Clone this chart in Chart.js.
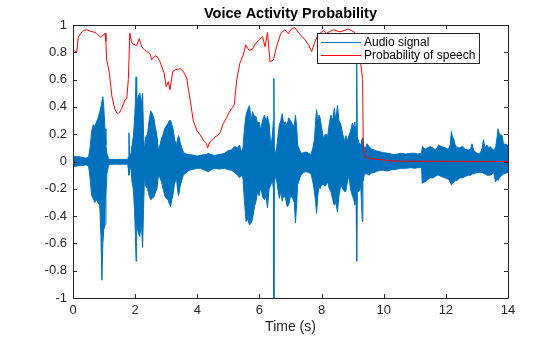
<!DOCTYPE html>
<html>
<head>
<meta charset="utf-8">
<script src="https://cdn.jsdelivr.net/npm/chart.js@4.4.1/dist/chart.umd.min.js"></script>
<style>
  html, body { margin: 0; padding: 0; background: #fff; }
  #wrap { width: 560px; height: 337px; }
</style>
</head>
<body>
<div id="wrap"><canvas id="c" width="560" height="337"></canvas></div>
<script>
// Audio waveform envelope: time (s), upper and lower extent of the signal
const envTime = [
  0.00,0.10,0.20,0.30,0.40,0.50,0.55,0.60,0.65,0.70,0.76,0.82,0.86,0.90,0.93,0.96,0.99,1.03,1.06,1.09,
  1.14,1.20,1.40,1.60,1.76,1.78,1.80,1.82,1.86,1.90,1.94,1.98,2.01,2.03,2.05,2.08,2.10,2.15,2.20,2.24,
  2.27,2.30,2.34,2.40,2.45,2.50,2.55,2.60,2.65,2.70,2.75,2.80,2.85,2.90,2.95,3.00,3.06,3.10,3.14,3.18,
  3.22,3.27,3.33,3.37,3.40,3.45,3.50,3.55,3.60,3.70,3.80,3.90,4.00,4.10,4.20,4.30,4.35,4.45,4.56,4.70,
  4.88,5.00,5.10,5.20,5.30,5.36,5.42,5.47,5.52,5.57,5.62,5.68,5.73,5.78,5.84,5.89,5.94,5.99,6.04,6.10,
  6.16,6.21,6.26,6.31,6.37,6.42,6.45,6.465,6.48,6.53,6.58,6.64,6.69,6.73,6.78,6.84,6.89,6.94,7.00,7.07,
  7.12,7.16,7.20,7.23,7.30,7.34,7.42,7.50,7.58,7.66,7.72,7.77,7.81,7.84,7.88,7.92,7.95,8.00,8.06,8.12,
  8.20,8.25,8.30,8.36,8.41,8.46,8.51,8.56,8.62,8.68,8.74,8.78,8.83,8.88,8.93,8.99,9.04,9.07,9.11,9.13,
  9.15,9.20,9.26,9.31,9.33,9.37,9.42,9.46,9.53,9.60,9.69,9.80,9.90,10.00,10.12,10.25,10.33,10.45,10.55,10.70,
  10.87,11.00,11.10,11.19,11.22,11.24,11.30,11.34,11.42,11.50,11.58,11.66,11.72,11.77,11.85,11.98,12.08,12.14,12.18,12.22,
  12.25,12.30,12.36,12.45,12.52,12.62,12.73,12.80,12.84,12.90,13.00,13.10,13.17,13.21,13.26,13.32,13.38,13.43,13.50,13.54,
  13.60,13.65,13.68,13.72,13.81,13.86,13.91,13.97,14.00
];
const envUpper = [
  0.04,0.035,0.035,0.03,0.025,0.03,0.10,0.22,0.27,0.26,0.29,0.33,0.36,0.40,0.44,0.475,0.40,0.24,0.12,0.06,
  0.02,0.015,0.015,0.015,0.015,0.03,0.21,0.05,0.05,0.12,0.18,0.30,0.45,0.62,0.40,0.45,0.48,0.50,0.42,0.50,
  0.20,0.08,0.18,0.20,0.30,0.37,0.35,0.32,0.25,0.19,0.08,0.12,0.17,0.20,0.24,0.26,0.28,0.30,0.30,0.27,
  0.24,0.16,0.12,0.17,0.19,0.14,0.10,0.07,0.06,0.05,0.05,0.045,0.04,0.045,0.05,0.05,0.06,0.05,0.045,0.05,
  0.06,0.08,0.085,0.11,0.10,0.12,0.07,0.10,0.25,0.34,0.38,0.41,0.30,0.365,0.33,0.33,0.28,0.29,0.23,0.30,
  0.34,0.30,0.33,0.28,0.10,0.20,0.30,0.61,0.10,0.05,0.15,0.27,0.30,0.35,0.28,0.29,0.26,0.32,0.30,0.27,
  0.26,0.34,0.25,0.12,0.08,0.06,0.065,0.07,0.06,0.05,0.10,0.16,0.30,0.38,0.30,0.34,0.32,0.25,0.17,0.20,
  0.19,0.28,0.34,0.30,0.39,0.30,0.41,0.30,0.27,0.20,0.15,0.19,0.15,0.19,0.22,0.28,0.25,0.29,0.20,0.80,
  0.18,0.14,0.12,0.17,0.15,0.10,0.10,0.13,0.11,0.09,0.085,0.075,0.07,0.065,0.06,0.055,0.05,0.055,0.06,0.055,
  0.06,0.06,0.055,0.06,0.06,0.11,0.10,0.09,0.10,0.11,0.10,0.085,0.10,0.12,0.11,0.10,0.09,0.12,0.22,0.17,
  0.17,0.12,0.10,0.10,0.11,0.09,0.085,0.09,0.13,0.08,0.06,0.055,0.10,0.16,0.10,0.12,0.10,0.11,0.09,0.085,
  0.10,0.18,0.24,0.20,0.19,0.12,0.13,0.12,0.12
];
const envLower = [
  -0.035,-0.035,-0.03,-0.03,-0.025,-0.03,-0.12,-0.25,-0.27,-0.30,-0.28,-0.31,-0.31,-0.55,-0.87,-0.60,-0.50,-0.46,-0.25,-0.09,
  -0.03,-0.02,-0.02,-0.02,-0.02,-0.05,-0.10,-0.06,-0.04,-0.15,-0.20,-0.35,-0.55,-0.73,-0.45,-0.50,-0.52,-0.55,-0.45,-0.63,
  -0.35,-0.10,-0.18,-0.20,-0.25,-0.28,-0.27,-0.26,-0.23,-0.20,-0.10,-0.12,-0.15,-0.20,-0.25,-0.27,-0.28,-0.31,-0.33,-0.28,
  -0.24,-0.16,-0.12,-0.22,-0.25,-0.18,-0.14,-0.10,-0.09,-0.07,-0.06,-0.055,-0.05,-0.05,-0.06,-0.07,-0.075,-0.06,-0.05,-0.055,
  -0.05,-0.06,-0.065,-0.08,-0.10,-0.12,-0.10,-0.12,-0.30,-0.44,-0.42,-0.465,-0.45,-0.42,-0.33,-0.29,-0.22,-0.25,-0.19,-0.26,
  -0.28,-0.25,-0.34,-0.20,-0.17,-0.14,-0.20,-1.00,-0.15,-0.10,-0.18,-0.27,-0.22,-0.29,-0.25,-0.27,-0.33,-0.32,-0.25,-0.27,
  -0.30,-0.45,-0.30,-0.17,-0.12,-0.10,-0.08,-0.075,-0.08,-0.09,-0.15,-0.22,-0.30,-0.38,-0.25,-0.17,-0.20,-0.17,-0.17,-0.18,
  -0.15,-0.20,-0.22,-0.28,-0.32,-0.30,-0.37,-0.25,-0.17,-0.20,-0.22,-0.22,-0.15,-0.10,-0.20,-0.25,-0.28,-0.32,-0.25,-0.73,
  -0.22,-0.22,-0.18,-0.44,-0.15,-0.10,-0.09,-0.09,-0.10,-0.085,-0.08,-0.07,-0.065,-0.065,-0.07,-0.06,-0.06,-0.055,-0.05,-0.05,
  -0.045,-0.05,-0.045,-0.045,-0.05,-0.16,-0.15,-0.15,-0.13,-0.12,-0.12,-0.11,-0.10,-0.10,-0.11,-0.12,-0.13,-0.15,-0.17,-0.16,
  -0.15,-0.14,-0.14,-0.12,-0.12,-0.11,-0.10,-0.10,-0.09,-0.09,-0.08,-0.08,-0.08,-0.09,-0.09,-0.10,-0.10,-0.10,-0.09,-0.08,
  -0.15,-0.12,-0.14,-0.12,-0.10,-0.09,-0.09,-0.08,-0.08
];

// Speech probability curve
const probTime = [
  0.00,0.05,0.12,0.17,0.25,0.35,0.44,0.55,0.65,0.75,0.82,0.89,0.95,1.03,1.06,1.08,1.17,1.25,1.35,1.43,
  1.50,1.57,1.67,1.73,1.78,1.83,1.88,1.92,2.05,2.13,2.21,2.30,2.37,2.48,2.53,2.58,2.64,2.72,2.80,2.93,
  3.00,3.07,3.12,3.21,3.28,3.35,3.44,3.50,3.55,3.66,3.77,3.87,3.98,4.09,4.23,4.30,4.33,4.41,4.50,4.57,
  4.65,4.73,4.84,4.94,5.03,5.11,5.19,5.27,5.37,5.48,5.56,5.66,5.77,5.86,6.02,6.10,6.18,6.26,6.34,6.45,
  6.55,6.69,6.82,6.93,7.04,7.14,7.31,7.47,7.58,7.68,7.79,7.90,8.06,8.16,8.38,8.59,8.86,9.07,9.18,9.26,
  9.32,9.34,9.37,9.40,9.56,9.88,10.20,10.60,14.00
];
const probValue = [
  0.82,0.81,0.80,0.91,0.94,0.96,0.965,0.955,0.95,0.94,0.925,0.91,0.92,0.94,0.88,0.75,0.65,0.48,0.38,0.35,
  0.36,0.39,0.45,0.46,0.60,0.94,0.88,0.86,0.85,0.90,0.84,0.82,0.805,0.79,0.745,0.76,0.775,0.765,0.73,0.65,
  0.55,0.585,0.525,0.66,0.67,0.675,0.68,0.67,0.66,0.61,0.45,0.30,0.23,0.195,0.145,0.13,0.10,0.145,0.16,0.18,
  0.19,0.21,0.28,0.32,0.36,0.39,0.415,0.60,0.72,0.78,0.855,0.815,0.82,0.86,0.90,0.915,0.84,0.945,0.73,0.745,
  0.84,0.94,0.965,0.935,0.975,0.98,0.93,0.89,0.855,0.805,0.88,0.93,0.96,0.94,0.965,0.95,0.97,0.945,0.85,0.72,
  0.60,0.15,0.06,0.035,0.02,0.015,0.005,0.002,0.0
];

// Axis ticks
const xTicks = [0, 2, 4, 6, 8, 10, 12, 14];
const yTicks = [-1, -0.8, -0.6, -0.4, -0.2, 0, 0.2, 0.4, 0.6, 0.8, 1];

const chartTitle = 'Voice Activity Probability';
const seriesLabels = ['Audio signal', 'Probability of speech'];
const AUDIO_BLUE = '#0072BD';
const PROB_RED = '#FF0000';
const AXIS_GRAY = '#262626';
const FONT = '"Liberation Sans", Arial, Helvetica, sans-serif';

const pts = (xs, ys) => xs.map((x, i) => ({ x, y: ys[i] }));

// Bold title centred over the plot area
const axesTitle = {
  id: 'axesTitle',
  afterDraw(chart) {
    const { ctx, chartArea: a } = chart;
    ctx.save();
    ctx.font = 'bold 14.5px ' + FONT;
    ctx.fillStyle = '#000';
    ctx.textAlign = 'center';
    ctx.textBaseline = 'middle';
    ctx.fillText(chartTitle, (a.left + a.right) / 2, 14);
    ctx.restore();
  }
};

// Box around the axes with inward ticks on all four sides
const axesBox = {
  id: 'axesBox',
  afterDatasetsDraw(chart) {
    const { ctx, chartArea: a, scales } = chart;
    const len = 4;
    ctx.save();
    ctx.strokeStyle = AXIS_GRAY;
    ctx.lineWidth = 1;
    ctx.beginPath();
    ctx.rect(Math.round(a.left) + 0.5, Math.round(a.top) + 0.5,
             Math.round(a.right - a.left), Math.round(a.bottom - a.top));
    scales.x.ticks.forEach(t => {
      const px = Math.round(scales.x.getPixelForValue(t.value)) + 0.5;
      ctx.moveTo(px, a.bottom); ctx.lineTo(px, a.bottom - len);
      ctx.moveTo(px, a.top); ctx.lineTo(px, a.top + len);
    });
    scales.y.ticks.forEach(t => {
      const py = Math.round(scales.y.getPixelForValue(t.value)) + 0.5;
      ctx.moveTo(a.left, py); ctx.lineTo(a.left + len, py);
      ctx.moveTo(a.right, py); ctx.lineTo(a.right - len, py);
    });
    ctx.stroke();
    ctx.restore();
  }
};

// Legend box in the upper right of the axes
const boxedLegend = {
  id: 'boxedLegend',
  afterDraw(chart) {
    const { ctx } = chart;
    const entries = [
      { label: chart.data.datasets[0].label, color: chart.data.datasets[0].borderColor },
      { label: chart.data.datasets[2].label, color: chart.data.datasets[2].borderColor }
    ];
    const left = 317, top = 33, right = 480, bottom = 64;
    ctx.save();
    ctx.fillStyle = '#fff';
    ctx.fillRect(left, top, right - left, bottom - top);
    ctx.strokeStyle = AXIS_GRAY;
    ctx.lineWidth = 1;
    ctx.strokeRect(left + 0.5, top + 0.5, right - left - 1, bottom - top - 1);
    ctx.font = '12px ' + FONT;
    ctx.textBaseline = 'middle';
    entries.forEach((e, i) => {
      const y = top + 9.5 + i * 13;
      ctx.strokeStyle = e.color;
      ctx.beginPath();
      ctx.moveTo(321, y); ctx.lineTo(361, y);
      ctx.stroke();
      ctx.fillStyle = '#000';
      ctx.fillText(e.label, 364, y);
    });
    ctx.restore();
  }
};

new Chart(document.getElementById('c'), {
  type: 'line',
  data: {
    datasets: [
      {
        label: seriesLabels[0],
        data: pts(envTime, envUpper),
        borderColor: AUDIO_BLUE,
        backgroundColor: AUDIO_BLUE,
        borderWidth: 1,
        fill: '+1',
        order: 2
      },
      {
        label: '',
        data: pts(envTime, envLower),
        borderColor: AUDIO_BLUE,
        backgroundColor: AUDIO_BLUE,
        borderWidth: 1,
        fill: false,
        order: 2
      },
      {
        label: seriesLabels[1],
        data: pts(probTime, probValue),
        borderColor: PROB_RED,
        borderWidth: 1,
        fill: false,
        order: 0
      }
    ]
  },
  options: {
    responsive: false,
    animation: false,
    events: [],
    layout: { padding: { left: 0, right: 52, top: 25, bottom: 0 } },
    elements: { point: { radius: 0 }, line: { tension: 0 } },
    plugins: {
      legend: { display: false },
      tooltip: { enabled: false },
      title: { display: false }
    },
    scales: {
      x: {
        type: 'linear',
        min: 0, max: 14,
        afterBuildTicks: s => { s.ticks = xTicks.map(v => ({ value: v })); },
        afterFit: s => { s.height = 39; },
        grid: { display: false, drawTicks: false },
        border: { display: false },
        ticks: {
          color: AXIS_GRAY, padding: 5, maxRotation: 0,
          font: { family: FONT, size: 13 }
        },
        title: {
          display: true, text: 'Time (s)', color: AXIS_GRAY,
          font: { family: FONT, size: 14 },
          padding: { top: 0, bottom: 1 }
        }
      },
      y: {
        type: 'linear',
        min: -1, max: 1,
        afterBuildTicks: s => { s.ticks = yTicks.map(v => ({ value: v })); },
        afterFit: s => { s.width = 73; },
        grid: { display: false, drawTicks: false },
        border: { display: false },
        ticks: {
          color: AXIS_GRAY, padding: 6,
          font: { family: FONT, size: 13 },
          callback: v => String(Math.round(v * 10) / 10)
        }
      }
    }
  },
  plugins: [axesBox, boxedLegend, axesTitle]
});
</script>
</body>
</html>
